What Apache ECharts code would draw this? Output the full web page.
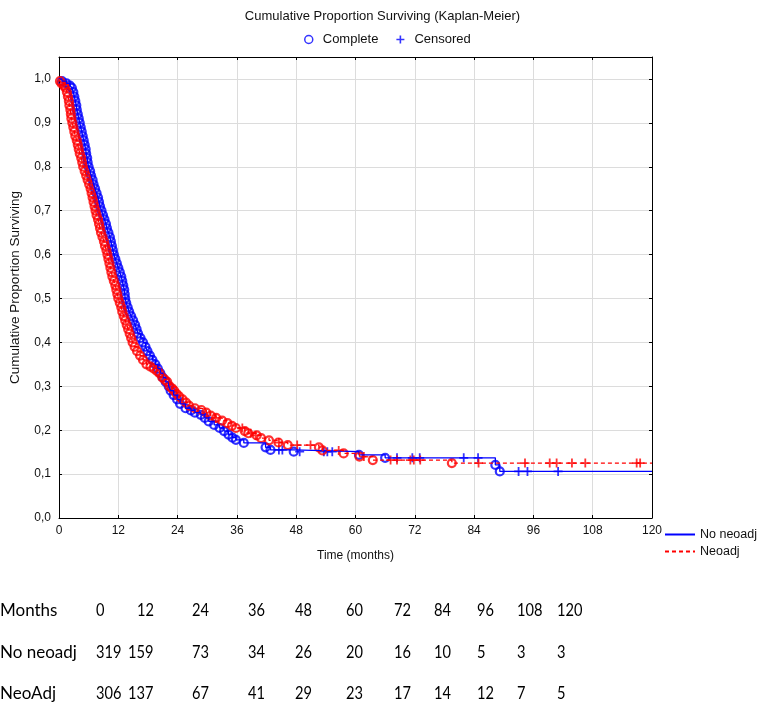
<!DOCTYPE html>
<html><head><meta charset="utf-8">
<script src="https://cdn.jsdelivr.net/npm/echarts@6/dist/echarts.min.js"></script>
<style>html,body{margin:0;padding:0;background:#fff}#c{width:765px;height:713px}</style>
</head><body><div id="c"></div>
<script>
// ---- data ----
const xTickValues = [0,12,24,36,48,60,72,84,96,108,120];

// No neoadj: complete (event) points [months, cumulative proportion surviving]
const noNeoEvents = [
 [0.6,0.995],[1.5,0.99],[2.2,0.985],[2.6,0.98],[2.9,0.97],[3.1,0.96],[3.3,0.95],[3.5,0.94],[3.6,0.93],[3.8,0.92],
 [4.0,0.91],[4.2,0.90],[4.4,0.89],[4.6,0.88],[4.8,0.87],[5.0,0.86],[5.2,0.85],[5.4,0.84],[5.5,0.83],[5.7,0.82],
 [5.8,0.81],[6.0,0.80],[6.3,0.79],[6.5,0.78],[6.8,0.77],[7.0,0.76],[7.3,0.75],[7.6,0.74],[7.9,0.73],[8.1,0.72],
 [8.3,0.71],[8.6,0.70],[8.9,0.69],[9.2,0.68],[9.5,0.67],[9.7,0.66],[10.0,0.65],[10.3,0.64],[10.5,0.63],[10.7,0.62],
 [10.9,0.61],[11.1,0.60],[11.4,0.59],[11.7,0.58],[12.0,0.57],[12.3,0.56],[12.6,0.55],[12.8,0.54],[13.0,0.53],[13.2,0.52],
 [13.3,0.51],[13.4,0.50],[13.6,0.49],[13.9,0.48],[14.2,0.47],[14.6,0.46],[15.0,0.45],[15.4,0.44],[15.7,0.43],[16.0,0.42],
 [16.5,0.41],[17.0,0.40],[17.5,0.39],[17.9,0.38],[18.4,0.37],[18.9,0.36],[19.5,0.35],[20.0,0.34],[20.5,0.33],[21.0,0.32],
 [21.6,0.31],[22.2,0.30],[22.6,0.29],[23.2,0.28],[23.9,0.27],[24.5,0.26],[25.6,0.25],[26.7,0.245],[27.5,0.24],[28.7,0.235],
 [29.5,0.228],[30.3,0.22],[31.4,0.212],[32.5,0.205],[33.4,0.198],[34.3,0.19],[35.1,0.183],[35.8,0.178],[37.4,0.171],
 [41.8,0.161],[42.8,0.155],[47.5,0.151],[60.7,0.144],[66.0,0.137],[88.3,0.121],[89.2,0.106]
];
const noNeoCensored = [
 [44.5,0.155],[45.2,0.155],[48.7,0.151],[53.6,0.151],[54.3,0.151],[55.3,0.151],[68.4,0.137],[71.5,0.137],
 [73.0,0.137],[81.9,0.137],[84.8,0.137],[93.0,0.106],[94.8,0.106],[101.0,0.106]
];
const noNeoLast = [120,0.106];

// Neoadj
const neoEvents = [
 [0.2,0.995],[0.5,0.99],[1.0,0.985],[1.3,0.98],[1.6,0.97],[1.8,0.96],[2.0,0.95],[2.1,0.94],[2.3,0.93],[2.4,0.92],
 [2.5,0.91],[2.7,0.90],[2.9,0.89],[3.1,0.88],[3.3,0.87],[3.6,0.86],[3.8,0.85],[4.0,0.84],[4.2,0.83],[4.5,0.82],
 [4.7,0.81],[4.9,0.80],[5.2,0.79],[5.5,0.78],[5.8,0.77],[6.1,0.76],[6.4,0.75],[6.6,0.74],[6.8,0.73],[7.0,0.72],
 [7.2,0.71],[7.4,0.70],[7.6,0.69],[7.9,0.68],[8.1,0.67],[8.3,0.66],[8.5,0.65],[8.8,0.64],[9.1,0.63],[9.3,0.62],
 [9.6,0.61],[9.8,0.60],[10.0,0.59],[10.2,0.58],[10.4,0.57],[10.6,0.56],[10.8,0.55],[11.1,0.54],[11.4,0.53],[11.6,0.52],
 [11.8,0.51],[12.0,0.50],[12.3,0.49],[12.6,0.48],[12.8,0.47],[13.1,0.46],[13.4,0.45],[13.7,0.44],[14.0,0.43],[14.3,0.42],
 [14.6,0.41],[14.9,0.40],[15.3,0.39],[15.8,0.38],[16.4,0.37],[17.0,0.36],[17.7,0.35],[18.5,0.345],[19.2,0.34],[19.8,0.335],
 [20.3,0.33],[20.9,0.32],[21.4,0.315],[21.9,0.31],[22.4,0.30],[22.9,0.295],[23.3,0.29],[23.8,0.283],[24.3,0.277],[25.0,0.27],
 [25.7,0.263],[26.3,0.256],[27.5,0.25],[28.8,0.246],[29.8,0.24],[30.7,0.233],[31.8,0.228],[33.0,0.222],[34.1,0.216],[35.0,0.21],
 [35.8,0.205],[37.6,0.198],[38.3,0.193],[40.0,0.188],[40.9,0.182],[42.5,0.177],[44.4,0.172],[46.3,0.166],[52.6,0.161],[53.3,0.154],
 [57.6,0.147],[60.8,0.140],[63.5,0.132],[79.5,0.125]
];
const neoCensored = [
 [31.7,0.228],[37.1,0.205],[38.8,0.193],[39.8,0.188],[44.5,0.172],[48.2,0.166],[50.9,0.166],[56.6,0.154],[61.7,0.140],
 [67.1,0.132],[68.4,0.132],[71.1,0.132],[71.8,0.132],[73.1,0.132],[84.9,0.125],[94.3,0.125],[99.3,0.125],[100.7,0.125],
 [103.8,0.125],[106.5,0.125],[116.9,0.125],[117.6,0.125]
];
const neoLast = [120,0.125];
const curveStart = [0,1.0];

// numbers at risk table
const tableMonths = [0,12,24,36,48,60,72,84,96,108,120];
const riskNoNeo = [319,159,73,34,26,20,16,10,5,3,3];
const riskNeo = [306,137,67,41,29,23,17,14,12,7,5];
const tableRowLabels = ['Months','No neoadj','NeoAdj'];

// ---- layout (not data) ----
const BLUE = '#0000ff', RED = '#ff0000';
const FONT = 'Liberation Sans, Arial, sans-serif';
const PLUS = 'path://M4,0H6V4H10V6H6V10H4V6H0V4H4Z';
const monthsColX = [96,137,192,248,295,346,394,434,477,517,557];
const riskColX = [96,128,192,248,295,346,394,434,477,517,557];
const rowY = [611,653,694];

const chart = echarts.init(document.getElementById('c'), null, {renderer:'canvas'});

function fmtY(v){ return v > 1.001 ? '' : v.toFixed(1).replace('.', ','); }

const tableGraphics = [];
const tableFont = '17px Lato, sans-serif';
[tableMonths, riskNoNeo, riskNeo].forEach((row, r) => {
  tableGraphics.push({type:'text', x:0, y:rowY[r], silent:true,
    style:{text:tableRowLabels[r], font:tableFont, fill:'#000', verticalAlign:'middle'}});
  const xs = r === 0 ? monthsColX : riskColX;
  row.forEach((v, i) => {
    tableGraphics.push({type:'text', x:xs[i], y:rowY[r], scaleX:0.86, silent:true,
      style:{text:String(v), font:tableFont, fill:'#000', verticalAlign:'middle'}});
  });
});

const scatterBase = {type:'scatter', xAxisIndex:0, yAxisIndex:0, silent:true};
const hiddenIcon = {color:'rgba(0,0,0,0)', borderColor:'rgba(0,0,0,0)', borderWidth:0};

chart.setOption({
  animation:false,
  backgroundColor:'#fff',
  textStyle:{fontFamily:FONT},
  title:{text:'Cumulative Proportion Surviving (Kaplan-Meier)', left:'center', top:10, padding:0,
    textStyle:{fontSize:13, fontWeight:'normal', color:'#111', fontFamily:FONT}},
  legend:[
    {left:304, top:33, padding:0, itemWidth:8, itemHeight:8, itemGap:18, selectedMode:false,
     textStyle:{fontSize:13, color:'#111', fontFamily:FONT, padding:[0,0,0,5]},
     data:[
      {name:'Complete', icon:'circle', itemStyle:{color:'rgba(0,0,0,0)', borderColor:BLUE, borderWidth:1.5}},
      {name:'Censored', icon:PLUS, itemStyle:{color:BLUE}}
     ]},
    {left:664, top:528, padding:0, orient:'vertical', itemWidth:30, itemHeight:10, itemGap:4, selectedMode:false,
     textStyle:{fontSize:12.5, color:'#111', fontFamily:FONT},
     itemStyle:hiddenIcon,
     data:[{name:'No neoadj', itemStyle:hiddenIcon},{name:'Neoadj', itemStyle:hiddenIcon}]}
  ],
  grid:{left:58, right:113, top:57, bottom:195, containLabel:false},
  xAxis:[
    {type:'value', position:'bottom', min:0, max:120, interval:12,
     name:'Time (months)', nameLocation:'middle', nameGap:32,
     nameTextStyle:{fontSize:12, color:'#111', fontFamily:FONT},
     axisLine:{show:true, lineStyle:{color:'#000', width:1}},
     axisTick:{show:true, inside:true, length:3, lineStyle:{color:'#000'}},
     axisLabel:{fontSize:12, color:'#111', margin:7, fontFamily:FONT},
     splitLine:{show:true, lineStyle:{color:'#dcdcdc', width:1}}},
    {type:'value', position:'top', min:0, max:120, interval:12,
     axisLine:{show:true, onZero:false, lineStyle:{color:'#000', width:1}},
     axisTick:{show:true, inside:true, length:3, lineStyle:{color:'#000'}},
     axisLabel:{show:false}, splitLine:{show:false}}
  ],
  yAxis:[
    {type:'value', position:'left', min:0, max:1.05, interval:0.1,
     name:'Cumulative Proportion Surviving', nameLocation:'middle', nameGap:37,
     nameTextStyle:{fontSize:13.5, color:'#111', fontFamily:FONT},
     axisLine:{show:true, onZero:false, lineStyle:{color:'#000', width:1}},
     axisTick:{show:true, inside:true, length:3, lineStyle:{color:'#000'}},
     axisLabel:{fontSize:12, color:'#111', margin:8, formatter:fmtY, fontFamily:FONT},
     splitLine:{show:true, lineStyle:{color:'#dcdcdc', width:1}}},
    {type:'value', position:'right', min:0, max:1.05, interval:0.1,
     axisLine:{show:true, onZero:false, lineStyle:{color:'#000', width:1}},
     axisTick:{show:true, inside:true, length:3, lineStyle:{color:'#000'}},
     axisLabel:{show:false}, splitLine:{show:false}}
  ],
  series:[
    {name:'No neoadj', type:'line', step:'end', symbol:'none', silent:true,
     data:[curveStart].concat(noNeoEvents, [noNeoLast]),
     lineStyle:{color:BLUE, width:1.3}, itemStyle:{color:BLUE}},
    Object.assign({}, scatterBase, {name:'Complete', data:noNeoEvents, symbol:'circle', symbolSize:8,
     itemStyle:{color:'rgba(0,0,0,0)', borderColor:BLUE, borderWidth:2.2}}),
    Object.assign({}, scatterBase, {name:'Censored', data:noNeoCensored, symbol:PLUS, symbolSize:9,
     itemStyle:{color:BLUE}}),
    {name:'Neoadj', type:'line', step:'end', symbol:'none', silent:true,
     data:[curveStart].concat(neoEvents, [neoLast]),
     lineStyle:{color:RED, width:1.3, type:[4,3]}, itemStyle:{color:RED}},
    Object.assign({}, scatterBase, {name:'Complete', data:neoEvents, symbol:'circle', symbolSize:8,
     itemStyle:{color:'rgba(0,0,0,0)', borderColor:RED, borderWidth:2.2}}),
    Object.assign({}, scatterBase, {name:'Censored', data:neoCensored, symbol:PLUS, symbolSize:9,
     itemStyle:{color:RED}})
  ],
  graphic: tableGraphics
});
</script></body></html>
